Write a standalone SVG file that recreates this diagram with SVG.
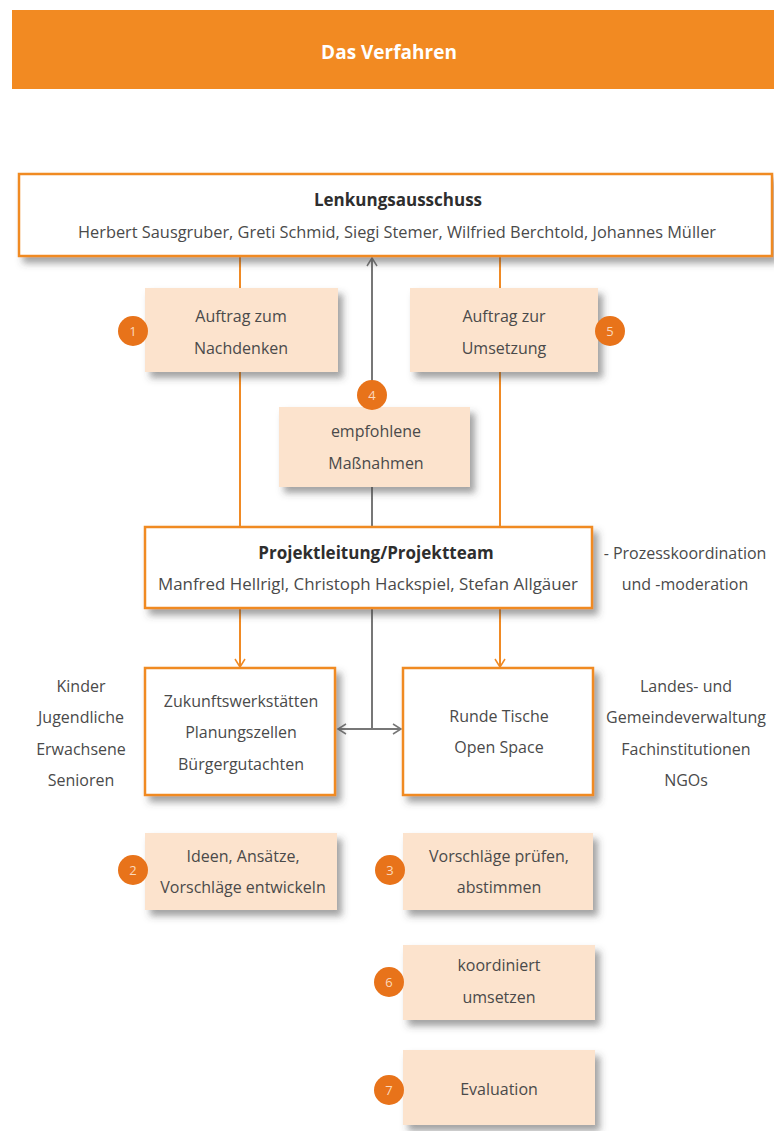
<svg xmlns="http://www.w3.org/2000/svg" width="774" height="1131" viewBox="0 0 774 1131">
<defs>
<filter id="sh" x="-10%" y="-10%" width="130%" height="140%">
<feDropShadow dx="5" dy="6" stdDeviation="3.5" flood-color="#444" flood-opacity="0.5"/>
</filter>
<marker id="ao" markerWidth="12" markerHeight="12" refX="10" refY="6" orient="auto" markerUnits="userSpaceOnUse">
<path d="M2,1 L10,6 L2,11" fill="none" stroke="#F08A24" stroke-width="1.5"/>
</marker>
<marker id="ag" markerWidth="12" markerHeight="12" refX="10" refY="6" orient="auto-start-reverse" markerUnits="userSpaceOnUse">
<path d="M2,1 L10,6 L2,11" fill="none" stroke="#777" stroke-width="1.5"/>
</marker>
</defs>
<style>
text{font-family:"Open Sans","Noto Sans","Liberation Sans",sans-serif;fill:#4a4a4a;font-size:16px;text-anchor:middle}
.b{font-weight:bold;fill:#2e2e2e;font-size:17px}
.w{fill:#fff;font-weight:bold;font-size:19px}
.box{fill:#fff;stroke:#F08A24;stroke-width:2.5}
.pe{fill:#FCE3CD}
.bd{fill:#E8731A}
.bt{fill:#fbd9bd;font-size:13px}
.lo{stroke:#F08A24;stroke-width:2;fill:none}
.lg{stroke:#777;stroke-width:2;fill:none}
</style>
<rect width="774" height="1131" fill="#fff"/>
<g id="header">
<rect x="12" y="10" width="762" height="79" fill="#F28A22"/>
<text class="w" x="389" y="59">Das Verfahren</text>
</g>
<g id="connectors">
<path class="lo" d="M240,256 V527"/>
<path class="lo" d="M500,256 V527"/>
<path class="lg" d="M372,527 V258" marker-end="url(#ag)"/>
<path class="lo" d="M240,609 V667" marker-end="url(#ao)"/>
<path class="lo" d="M500,609 V667" marker-end="url(#ao)"/>
<path class="lg" d="M372,609 V729"/>
<path class="lg" d="M338,729 H401" marker-start="url(#ag)" marker-end="url(#ag)"/>
</g>
<g id="lenkungsausschuss">
<rect class="box" x="19" y="174" width="753" height="82" filter="url(#sh)"/>
<text class="b" x="398" y="206">Lenkungsausschuss</text>
<text x="397" y="238" textLength="638" lengthAdjust="spacingAndGlyphs">Herbert Sausgruber, Greti Schmid, Siegi Stemer, Wilfried Berchtold, Johannes Müller</text>
</g>
<g id="auftrag-nachdenken">
<rect class="pe" x="145" y="288" width="193" height="84" filter="url(#sh)"/>
<text x="241" y="322">Auftrag zum</text>
<text x="241" y="354">Nachdenken</text>
<circle class="bd" cx="133" cy="331" r="15"/>
<text class="bt" x="133" y="336">1</text>
</g>
<g id="auftrag-umsetzung">
<rect class="pe" x="410" y="288" width="188" height="84" filter="url(#sh)"/>
<text x="504" y="322">Auftrag zur</text>
<text x="504" y="354">Umsetzung</text>
<circle class="bd" cx="610" cy="331" r="15"/>
<text class="bt" x="610" y="336">5</text>
</g>
<g id="empfohlene-massnahmen">
<rect class="pe" x="279" y="407" width="191" height="80" filter="url(#sh)"/>
<text x="376" y="437">empfohlene</text>
<text x="376" y="469">Maßnahmen</text>
<circle class="bd" cx="372" cy="395" r="15"/>
<text class="bt" x="372" y="400">4</text>
</g>
<g id="projektleitung">
<rect class="box" x="145" y="527" width="447" height="81" filter="url(#sh)"/>
<text class="b" x="376" y="559">Projektleitung/Projektteam</text>
<text x="368" y="590" textLength="420" lengthAdjust="spacingAndGlyphs">Manfred Hellrigl, Christoph Hackspiel, Stefan Allgäuer</text>
</g>
<g id="prozesskoordination">
<text x="685" y="559">- Prozesskoordination</text>
<text x="685" y="590">und -moderation</text>
</g>
<g id="zukunftswerkstaetten">
<rect class="box" x="145" y="668" width="190" height="127" filter="url(#sh)"/>
<text x="241" y="707">Zukunftswerkstätten</text>
<text x="241" y="738">Planungszellen</text>
<text x="241" y="770">Bürgergutachten</text>
</g>
<g id="zielgruppen">
<text x="81" y="692">Kinder</text>
<text x="81" y="723">Jugendliche</text>
<text x="81" y="755">Erwachsene</text>
<text x="81" y="786">Senioren</text>
</g>
<g id="runde-tische">
<rect class="box" x="403" y="668" width="190" height="127" filter="url(#sh)"/>
<text x="499" y="722">Runde Tische</text>
<text x="499" y="753">Open Space</text>
</g>
<g id="institutionen">
<text x="686" y="692">Landes- und</text>
<text x="686" y="723">Gemeindeverwaltung</text>
<text x="686" y="755">Fachinstitutionen</text>
<text x="686" y="786">NGOs</text>
</g>
<g id="ideen">
<rect class="pe" x="145" y="833" width="192" height="77" filter="url(#sh)"/>
<text x="243" y="862">Ideen, Ansätze,</text>
<text x="243" y="893">Vorschläge entwickeln</text>
<circle class="bd" cx="133" cy="870" r="15"/>
<text class="bt" x="133" y="875">2</text>
</g>
<g id="vorschlaege">
<rect class="pe" x="403" y="833" width="190" height="77" filter="url(#sh)"/>
<text x="499" y="862">Vorschläge prüfen,</text>
<text x="499" y="893">abstimmen</text>
<circle class="bd" cx="390" cy="870" r="15"/>
<text class="bt" x="390" y="875">3</text>
</g>
<g id="koordiniert">
<rect class="pe" x="403" y="945" width="192" height="75" filter="url(#sh)"/>
<text x="499" y="971">koordiniert</text>
<text x="499" y="1003">umsetzen</text>
<circle class="bd" cx="389" cy="982" r="15"/>
<text class="bt" x="389" y="987">6</text>
</g>
<g id="evaluation">
<rect class="pe" x="403" y="1050" width="192" height="75" filter="url(#sh)"/>
<text x="499" y="1095">Evaluation</text>
<circle class="bd" cx="389" cy="1090" r="15"/>
<text class="bt" x="389" y="1095">7</text>
</g>
</svg>
